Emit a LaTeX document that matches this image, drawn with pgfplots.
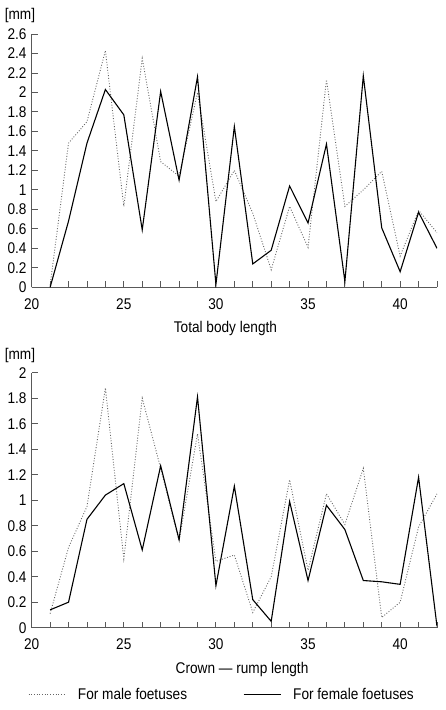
\documentclass[border=0pt]{standalone}
\usepackage{fontspec}
\setmainfont{Liberation Sans}[FakeStretch=0.88]
\usepackage{pgfplots}
\pgfplotsset{compat=1.18}

% Measurements per foetus length, 21--42
\pgfplotstableread{
x  male  female
21 0.02  0.00
22 1.48  0.68
23 1.70  1.48
24 2.43  2.03
25 0.83  1.77
26 2.35  0.59
27 1.29  2.01
28 1.14  1.10
29 2.00  2.16
30 0.88  0.03
31 1.20  1.65
32 0.76  0.24
33 0.18  0.38
34 0.83  1.04
35 0.41  0.66
36 2.13  1.47
37 0.83  0.06
38 1.00  2.17
39 1.19  0.61
40 0.32  0.16
41 0.79  0.77
42 0.56  0.40
}\totalbody

\pgfplotstableread{
x  male  female
21 0.11  0.14
22 0.63  0.20
23 0.95  0.85
24 1.88  1.04
25 0.54  1.13
26 1.80  0.61
27 1.25  1.27
28 0.68  0.69
29 1.52  1.81
30 0.52  0.33
31 0.57  1.11
32 0.12  0.22
33 0.40  0.05
34 1.16  0.99
35 0.45  0.37
36 1.05  0.96
37 0.81  0.77
38 1.25  0.37
39 0.08  0.36
40 0.20  0.34
41 0.79  1.18
42 1.05  0.01
}\crownrump

\pgfplotsset{
  foetus/.style={
    scale only axis,
    width=405.3pt,
    axis lines=left,
    axis line style={-, draw=black!65, line width=0.9pt},
    tick style={draw=black!65, line width=0.9pt},
    tick align=inside,
    major tick length=6pt,
    minor tick length=6pt,
    xmin=20, xmax=42,
    ymin=0,
    enlargelimits=false,
    xtick={20,25,30,35,40},
    minor xtick={21,...,42},
    font=\fontsize{15.5}{18}\selectfont,
    /pgf/number format/assume math mode=true,
    yticklabel style={/pgf/number format/fixed, inner xsep=5pt},
    xticklabel style={inner ysep=11pt},
    xlabel style={anchor=base},
    ylabel style={rotate=-90, anchor=center},
    ylabel={[mm]},
    male/.style={draw=black!60, line width=0.9pt, dash pattern=on 0.9pt off 1.8pt},
    female/.style={draw=black, line width=1.1pt},
  }
}

\begin{document}
\begin{tikzpicture}
\path[use as bounding box] (0,0) rectangle (446pt,710pt);

\begin{axis}[foetus,
  at={(31.7pt,422.7pt)}, anchor=south west,
  height=253.3pt,
  ymax=2.6,
  ytick={0,0.2,...,2.61},
  xlabel={Total body length},
  xlabel style={at={(axis description cs:0.478,-0.1796)}},
  ylabel style={at={(axis description cs:-0.029,1.075)}},
]
\addplot[male] table[x=x, y=male] {\totalbody};
\addplot[female] table[x=x, y=female] {\totalbody};
\end{axis}

\begin{axis}[foetus,
  at={(31.7pt,82.3pt)}, anchor=south west,
  height=255pt,
  ymax=2,
  ytick={0,0.2,...,2.01},
  xlabel={Crown --- rump length},
  xlabel style={at={(axis description cs:0.519,-0.1784)}},
  ylabel style={at={(axis description cs:-0.029,1.069)}},
  legend columns=2,
  legend style={at={(axis description cs:-0.009,-0.262)}, anchor=west,
    draw=none, fill=none, inner sep=0pt, outer sep=0pt,
    font=\fontsize{15.5}{18}\selectfont,
    nodes={inner sep=0pt},
    /tikz/every odd column/.append style={column sep=12pt},
    /tikz/every even column/.append style={column sep=56pt}},
  legend image code/.code={\draw[#1] (0pt,0pt) -- (37pt,0pt);},
]
\addplot[male] table[x=x, y=male] {\crownrump};
\addlegendentry{For male foetuses}
\addplot[female] table[x=x, y=female] {\crownrump};
\addlegendentry{For female foetuses}
\end{axis}
\end{tikzpicture}
\end{document}
